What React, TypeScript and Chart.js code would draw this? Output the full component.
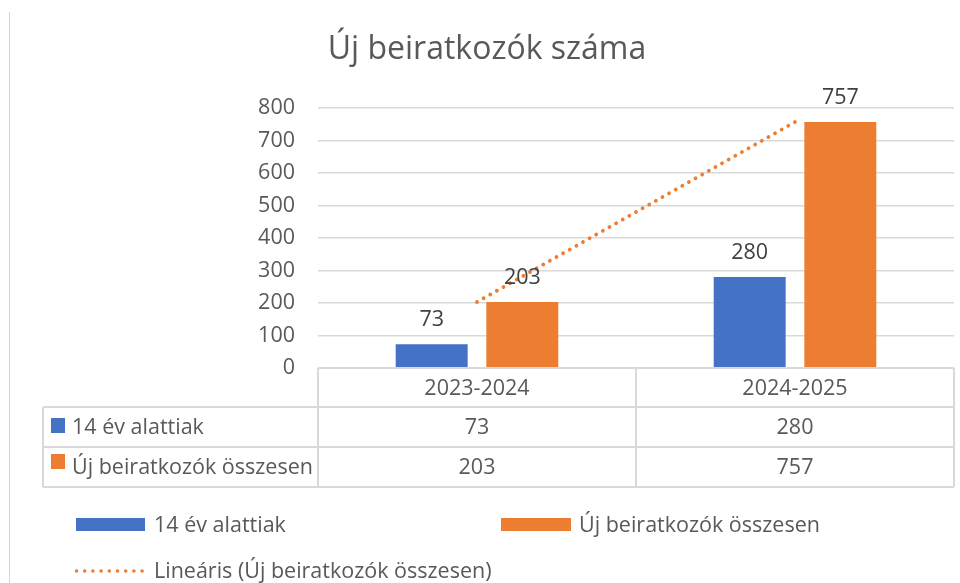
import React, { useEffect, useRef } from "react";
import { Chart, registerables } from "chart.js";

Chart.register(...registerables);

// ---- data ----
const chartTitle = "Új beiratkozók száma";
const categories = ["2023-2024", "2024-2025"];
const seriesNames = ["14 év alattiak", "Új beiratkozók összesen"];
const under14 = [73, 280];
const totalNew = [203, 757];
const trendLabel = "Lineáris (Új beiratkozók összesen)";
const yMin = 0;
const yMax = 800;
const yStep = 100;

// ---- style ----
const BLUE = "#4472C4";
const ORANGE = "#ED7D31";
const TEXT = "#595959";
const LABEL = "#404040";
const GRID = "#d9d9d9";
const FAMILY = '"Open Sans", "Noto Sans", sans-serif';
const FS = 21.5;

// least-squares linear trend over category indices
function linearTrend(values: number[]): number[] {
  const n = values.length;
  const xs = values.map((_, i) => i + 1);
  const mx = xs.reduce((a, b) => a + b, 0) / n;
  const my = values.reduce((a, b) => a + b, 0) / n;
  let num = 0;
  let den = 0;
  for (let i = 0; i < n; i++) {
    num += (xs[i] - mx) * (values[i] - my);
    den += (xs[i] - mx) * (xs[i] - mx);
  }
  const slope = den === 0 ? 0 : num / den;
  return xs.map((x) => my + slope * (x - mx));
}

const overlayPlugin = {
  id: "overlay",
  beforeDraw(chart: any) {
    const { ctx, width, height } = chart;
    ctx.save();
    ctx.fillStyle = "#ffffff";
    ctx.fillRect(0, 0, width, height);
    ctx.restore();
  },
  afterDatasetsDraw(chart: any) {
    const { ctx } = chart;
    ctx.save();
    ctx.font = `${FS}px ${FAMILY}`;
    ctx.fillStyle = LABEL;
    ctx.textAlign = "center";
    ctx.textBaseline = "alphabetic";
    [0, 1].forEach((di) => {
      const meta = chart.getDatasetMeta(di);
      const data = chart.data.datasets[di].data as number[];
      meta.data.forEach((bar: any, i: number) => {
        ctx.fillText(String(data[i]), bar.x, bar.y - 18);
      });
    });
    ctx.restore();
  },
  afterDraw(chart: any) {
    const { ctx, chartArea, scales } = chart;
    const xs = scales.x;
    ctx.save();

    // left border line
    ctx.strokeStyle = "#c9d3ee";
    ctx.lineWidth = 1;
    ctx.beginPath();
    ctx.moveTo(9.5, 12);
    ctx.lineTo(9.5, chart.height);
    ctx.stroke();

    // title
    ctx.font = `32px ${FAMILY}`;
    ctx.fillStyle = TEXT;
    ctx.textAlign = "center";
    ctx.textBaseline = "alphabetic";
    ctx.fillText(chartTitle, 487, 59);

    // data table
    const left = 43;
    const colL = chartArea.left;
    const colR = chartArea.right;
    const mid = (xs.getPixelForValue(0) + xs.getPixelForValue(1)) / 2;
    const rowTop = chartArea.bottom;
    const r1 = 407;
    const r2 = 447;
    const r3 = 487;
    ctx.strokeStyle = GRID;
    ctx.lineWidth = 2;
    ctx.beginPath();
    ctx.moveTo(colL, rowTop);
    ctx.lineTo(colR, rowTop);
    [r1, r2, r3].forEach((y) => {
      ctx.moveTo(left, y);
      ctx.lineTo(colR, y);
    });
    ctx.moveTo(left, r1);
    ctx.lineTo(left, r3);
    [colL, mid, colR].forEach((x) => {
      ctx.moveTo(x, rowTop);
      ctx.lineTo(x, r3);
    });
    ctx.stroke();

    ctx.font = `${FS}px ${FAMILY}`;
    ctx.fillStyle = TEXT;
    ctx.textAlign = "center";
    categories.forEach((c, i) => {
      const cx = xs.getPixelForValue(i);
      ctx.fillText(c, cx, 395);
      ctx.fillText(String(under14[i]), cx, 434);
      ctx.fillText(String(totalNew[i]), cx, 473.5);
    });
    ctx.textAlign = "left";
    ctx.fillStyle = BLUE;
    ctx.fillRect(51, 418, 14, 15);
    ctx.fillStyle = ORANGE;
    ctx.fillRect(51, 454, 14, 15);
    ctx.fillStyle = TEXT;
    ctx.fillText(seriesNames[0], 72, 434);
    ctx.fillText(seriesNames[1], 72, 473.5);

    // legend
    ctx.fillStyle = BLUE;
    ctx.fillRect(76, 518, 69, 13);
    ctx.fillStyle = ORANGE;
    ctx.fillRect(501, 518, 70, 13);
    ctx.fillStyle = TEXT;
    ctx.fillText(seriesNames[0], 154, 532);
    ctx.fillText(seriesNames[1], 579, 532);
    ctx.fillStyle = ORANGE;
    for (let k = 0; k < 9; k++) {
      ctx.beginPath();
      ctx.arc(76.5 + k * 8.2, 571, 1.8, 0, Math.PI * 2);
      ctx.fill();
    }
    ctx.fillStyle = TEXT;
    ctx.fillText(trendLabel, 154, 578);

    ctx.restore();
  },
};

export default function App() {
  const ref = useRef<HTMLCanvasElement | null>(null);

  useEffect(() => {
    if (!ref.current) return;
    const chart = new Chart(ref.current, {
      type: "bar",
      data: {
        labels: categories,
        datasets: [
          {
            type: "bar",
            label: seriesNames[0],
            data: under14,
            backgroundColor: BLUE,
            categoryPercentage: 0.57,
            barPercentage: 0.794,
            order: 1,
          },
          {
            type: "bar",
            label: seriesNames[1],
            data: totalNew,
            backgroundColor: ORANGE,
            categoryPercentage: 0.57,
            barPercentage: 0.794,
            order: 1,
          },
          {
            type: "line",
            label: trendLabel,
            data: linearTrend(totalNew),
            borderColor: ORANGE,
            borderWidth: 3.8,
            borderDash: [0.01, 7.6],
            borderCapStyle: "round",
            pointRadius: 0,
            fill: false,
            tension: 0,
            order: 0,
          },
        ],
      } as any,
      options: {
        animation: false,
        responsive: false,
        maintainAspectRatio: false,
        layout: { padding: { top: 108, right: 6, left: 0, bottom: 0 } },
        plugins: {
          legend: { display: false },
          title: { display: false },
          tooltip: { enabled: false },
        },
        scales: {
          x: {
            type: "category",
            offset: true,
            grid: { display: false },
            border: { display: false },
            ticks: { display: false },
            afterFit: (s: any) => {
              s.height = 215;
            },
          },
          y: {
            min: yMin,
            max: yMax,
            border: { display: false },
            grid: { color: GRID, lineWidth: 1.5, drawTicks: false },
            ticks: {
              stepSize: yStep,
              color: TEXT,
              padding: 23,
              font: { family: FAMILY, size: FS },
            },
            afterFit: (s: any) => {
              s.width = 318;
            },
          },
        },
      } as any,
      plugins: [overlayPlugin],
    });
    return () => chart.destroy();
  }, []);

  return (
    <div style={{ position: "fixed", left: 0, top: 0, width: 960, height: 583, background: "#fff" }}>
      <canvas ref={ref} width={960} height={583} style={{ display: "block", width: 960, height: 583 }} />
    </div>
  );
}
